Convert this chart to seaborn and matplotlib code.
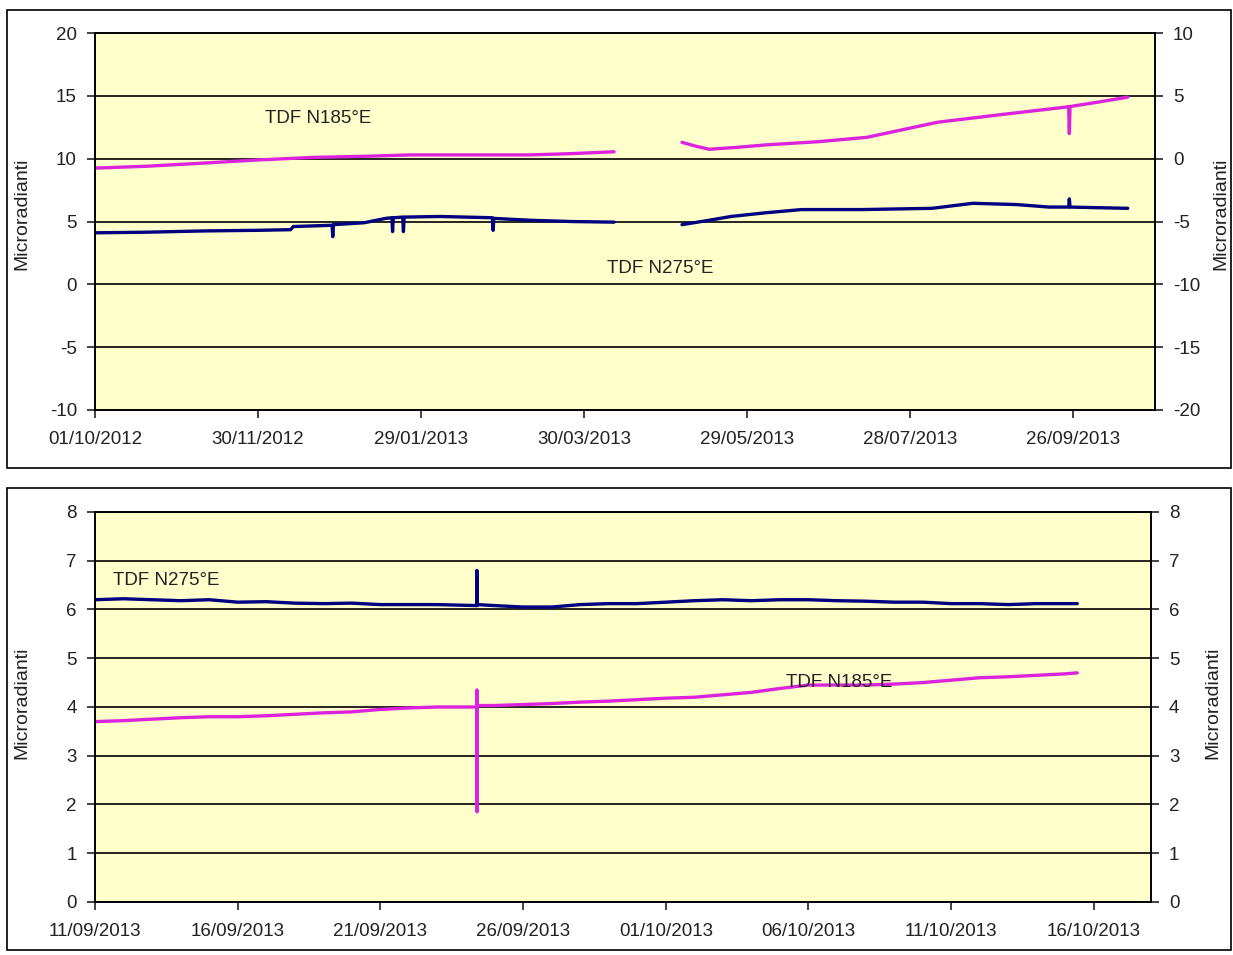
import numpy as np
import pandas as pd
import seaborn as sns
import matplotlib.pyplot as plt
import matplotlib.dates as mdates
from matplotlib.patches import Rectangle

# ----------------- data -----------------

# top panel: Oct 2012 - Oct 2013, N275 on left axis, N185 on right axis
top_n275_dates = ["2012-10-01", "2012-10-20", "2012-11-10", "2012-11-30", "2012-12-12",
                  "2012-12-13", "2012-12-27 06:00", "2012-12-27 12:00", "2012-12-27 18:00",
                  "2013-01-08", "2013-01-16", "2013-01-18 06:00", "2013-01-18 12:00",
                  "2013-01-18 18:00", "2013-01-22 06:00", "2013-01-22 12:00", "2013-01-22 18:00",
                  "2013-02-05", "2013-02-24 06:00", "2013-02-24 12:00", "2013-02-24 18:00",
                  "2013-03-10", "2013-03-25", "2013-04-10", "2013-04-20",
                  "2013-05-05", "2013-05-15", "2013-05-23", "2013-06-05", "2013-06-18",
                  "2013-07-10", "2013-08-05", "2013-08-20", "2013-09-05", "2013-09-17",
                  "2013-09-24 06:00", "2013-09-24 12:00", "2013-09-24 18:00",
                  "2013-10-05", "2013-10-16"]
top_n275_vals = [4.1, 4.15, 4.25, 4.3, 4.35,
                 4.6, 4.7, 3.8, 4.75,
                 4.9, 5.25, 5.3, 4.2,
                 5.3, 5.35, 4.2, 5.35,
                 5.4, 5.3, 4.3, 5.25,
                 5.1, 5.0, 4.95, np.nan,
                 4.75, 5.1, 5.4, 5.7, 5.95,
                 5.95, 6.05, 6.45, 6.35, 6.15,
                 6.15, 6.8, 6.15,
                 6.1, 6.05]

top_n185_dates = ["2012-10-01", "2012-10-20", "2012-11-10", "2012-11-30", "2012-12-20",
                  "2013-01-10", "2013-01-25", "2013-02-15", "2013-03-10", "2013-03-25",
                  "2013-04-10", "2013-04-20",
                  "2013-05-05", "2013-05-10", "2013-05-15", "2013-05-25", "2013-06-05",
                  "2013-06-24", "2013-07-12", "2013-07-25", "2013-08-07", "2013-08-30",
                  "2013-09-23", "2013-09-24 06:00", "2013-09-24 12:00", "2013-09-24 18:00",
                  "2013-10-05", "2013-10-16"]
top_n185_vals = [-0.75, -0.6, -0.35, -0.1, 0.1,
                 0.2, 0.3, 0.3, 0.3, 0.4,
                 0.55, np.nan,
                 1.3, 1.0, 0.75, 0.9, 1.1,
                 1.35, 1.7, 2.3, 2.9, 3.5,
                 4.1, 4.15, 2.0, 4.15,
                 4.5, 4.9]

top_ticks = ["2012-10-01", "2012-11-30", "2013-01-29", "2013-03-30",
             "2013-05-29", "2013-07-28", "2013-09-26"]

# bottom panel: 11/09/2013 - 15/10/2013
bot_n275_dates = ["2013-09-11", "2013-09-12", "2013-09-13", "2013-09-14", "2013-09-15",
                  "2013-09-16", "2013-09-17", "2013-09-18", "2013-09-19", "2013-09-20",
                  "2013-09-21", "2013-09-22", "2013-09-23", "2013-09-24 09:00",
                  "2013-09-24 09:10", "2013-09-24 09:20", "2013-09-24 09:30",
                  "2013-09-25", "2013-09-26", "2013-09-27", "2013-09-28", "2013-09-29",
                  "2013-09-30", "2013-10-01", "2013-10-02", "2013-10-03", "2013-10-04",
                  "2013-10-05", "2013-10-06", "2013-10-07", "2013-10-08", "2013-10-09",
                  "2013-10-10", "2013-10-11", "2013-10-12", "2013-10-13", "2013-10-14",
                  "2013-10-15", "2013-10-15 10:00"]
bot_n275_vals = [6.2, 6.22, 6.2, 6.18, 6.2,
                 6.15, 6.16, 6.13, 6.12, 6.13,
                 6.1, 6.1, 6.1, 6.08,
                 6.8, 6.08, 6.1,
                 6.08, 6.05, 6.05, 6.1, 6.12,
                 6.12, 6.15, 6.18, 6.2, 6.18,
                 6.2, 6.2, 6.18, 6.17, 6.15,
                 6.15, 6.12, 6.12, 6.1, 6.12,
                 6.12, 6.12]

bot_n185_dates = ["2013-09-11", "2013-09-12", "2013-09-13", "2013-09-14", "2013-09-15",
                  "2013-09-16", "2013-09-17", "2013-09-18", "2013-09-19", "2013-09-20",
                  "2013-09-21", "2013-09-22", "2013-09-23", "2013-09-24 09:00",
                  "2013-09-24 09:10", "2013-09-24 09:20", "2013-09-24 09:30",
                  "2013-09-25", "2013-09-26", "2013-09-27", "2013-09-28", "2013-09-29",
                  "2013-09-30", "2013-10-01", "2013-10-02", "2013-10-03", "2013-10-04",
                  "2013-10-05", "2013-10-06", "2013-10-07", "2013-10-08", "2013-10-09",
                  "2013-10-10", "2013-10-11", "2013-10-12", "2013-10-13", "2013-10-14",
                  "2013-10-15", "2013-10-15 10:00"]
bot_n185_vals = [3.7, 3.72, 3.75, 3.78, 3.8,
                 3.8, 3.82, 3.85, 3.88, 3.9,
                 3.95, 3.98, 4.0, 4.0,
                 4.35, 1.85, 4.03,
                 4.03, 4.05, 4.07, 4.1, 4.12,
                 4.15, 4.18, 4.2, 4.25, 4.3,
                 4.38, 4.45, 4.45, 4.45, 4.47,
                 4.5, 4.55, 4.6, 4.62, 4.65,
                 4.68, 4.7]

bot_ticks = ["2013-09-11", "2013-09-16", "2013-09-21", "2013-09-26",
             "2013-10-01", "2013-10-06", "2013-10-11", "2013-10-16"]


def make_frame(dates, vals):
    df = pd.DataFrame({"date": pd.to_datetime(dates, format="mixed"), "value": vals})
    # NaN rows split the line into separate segments
    df["seg"] = df["value"].isna().cumsum()
    return df.dropna()


sns.set_theme(style="white")
plt.rcParams['font.family'] = ['Liberation Sans', 'DejaVu Sans']
plt.rcParams['axes.unicode_minus'] = False

BLUE = "#000080"
MAGENTA = "#DD22DD"
BG = "#FFFFCC"
FS = 13.5

fig = plt.figure(figsize=(12.33, 9.55), dpi=100)

# chart area borders
for y0, h in [(0.5099, 0.4796), (0.0052, 0.4838)]:
    fig.patches.append(Rectangle((0.0057, y0), 0.9927, h, transform=fig.transFigure,
                                 fill=False, edgecolor="black", lw=1.2))

ax_top = fig.add_axes([0.0770, 0.5707, 0.8597, 0.3947])
ax_bot = fig.add_axes([0.0770, 0.0555, 0.8565, 0.4084])


def style_axes(ax, ax2, ticks, xlim, ylim, ylim2, yticks, yticks2):
    ax.set_facecolor(BG)
    ax.set_xlim(pd.to_datetime(xlim[0]), pd.to_datetime(xlim[1]))
    ax.set_ylim(*ylim)
    ax2.set_ylim(*ylim2)
    ax.set_yticks(yticks)
    ax2.set_yticks(yticks2)
    ax.set_xticks(pd.to_datetime(ticks))
    ax.xaxis.set_major_formatter(mdates.DateFormatter("%d/%m/%Y"))
    ax.yaxis.grid(True, color="black", lw=1.2)
    ax.xaxis.grid(False)
    ax2.grid(False)
    for a in (ax, ax2):
        for s in a.spines.values():
            s.set_color("black")
            s.set_linewidth(1.2)
        a.tick_params(axis="both", direction="out", length=6, width=1.2,
                      colors="#222222", labelsize=FS)
    ax.tick_params(axis="x", pad=9, bottom=True)
    ax.tick_params(axis="y", pad=7, left=True)
    ax2.tick_params(axis="y", pad=7, right=True)
    ax.set_xlabel("")
    ax.set_ylabel("Microradianti", fontsize=14, color="#222222")
    ax2.set_ylabel("Microradianti", fontsize=14, color="#222222")


# ----------------- top panel -----------------
ax_top2 = ax_top.twinx()
sns.lineplot(data=make_frame(top_n275_dates, top_n275_vals), x="date", y="value",
             units="seg", estimator=None, color=BLUE, lw=2.4, ax=ax_top, legend=False)
sns.lineplot(data=make_frame(top_n185_dates, top_n185_vals), x="date", y="value",
             units="seg", estimator=None, color=MAGENTA, lw=2.4, ax=ax_top2, legend=False)
style_axes(ax_top, ax_top2, top_ticks, ("2012-10-01", "2013-10-26"),
           (-10, 20), (-20, 10), range(-10, 21, 5), range(-20, 11, 5))
ax_top.yaxis.set_label_coords(-0.061, 0.52)
ax_top2.yaxis.set_label_coords(1.054, 0.52)
ax_top.text(pd.Timestamp("2012-12-22"), 13.2, "TDF N185°E", ha="center", va="center",
            fontsize=FS, color="#222222")
ax_top.text(pd.Timestamp("2013-04-27"), 1.3, "TDF N275°E", ha="center", va="center",
            fontsize=FS, color="#222222")

# ----------------- bottom panel -----------------
ax_bot2 = ax_bot.twinx()
sns.lineplot(data=make_frame(bot_n275_dates, bot_n275_vals), x="date", y="value",
             units="seg", estimator=None, color=BLUE, lw=2.4, ax=ax_bot, legend=False)
sns.lineplot(data=make_frame(bot_n185_dates, bot_n185_vals), x="date", y="value",
             units="seg", estimator=None, color=MAGENTA, lw=2.4, ax=ax_bot2, legend=False)
style_axes(ax_bot, ax_bot2, bot_ticks, ("2013-09-11", "2013-10-18"),
           (0, 8), (0, 8), range(0, 9), range(0, 9))
ax_bot.yaxis.set_label_coords(-0.061, 0.51)
ax_bot2.yaxis.set_label_coords(1.051, 0.51)
ax_bot.text(pd.Timestamp("2013-09-11 15:00"), 6.6, "TDF N275°E", ha="left", va="center",
            fontsize=FS, color="#222222")
ax_bot2.text(pd.Timestamp("2013-10-05 05:00"), 4.5, "TDF N185°E", ha="left", va="center",
             fontsize=FS, color="#222222", zorder=5)

fig.savefig("out.png", dpi=100, facecolor="white")
